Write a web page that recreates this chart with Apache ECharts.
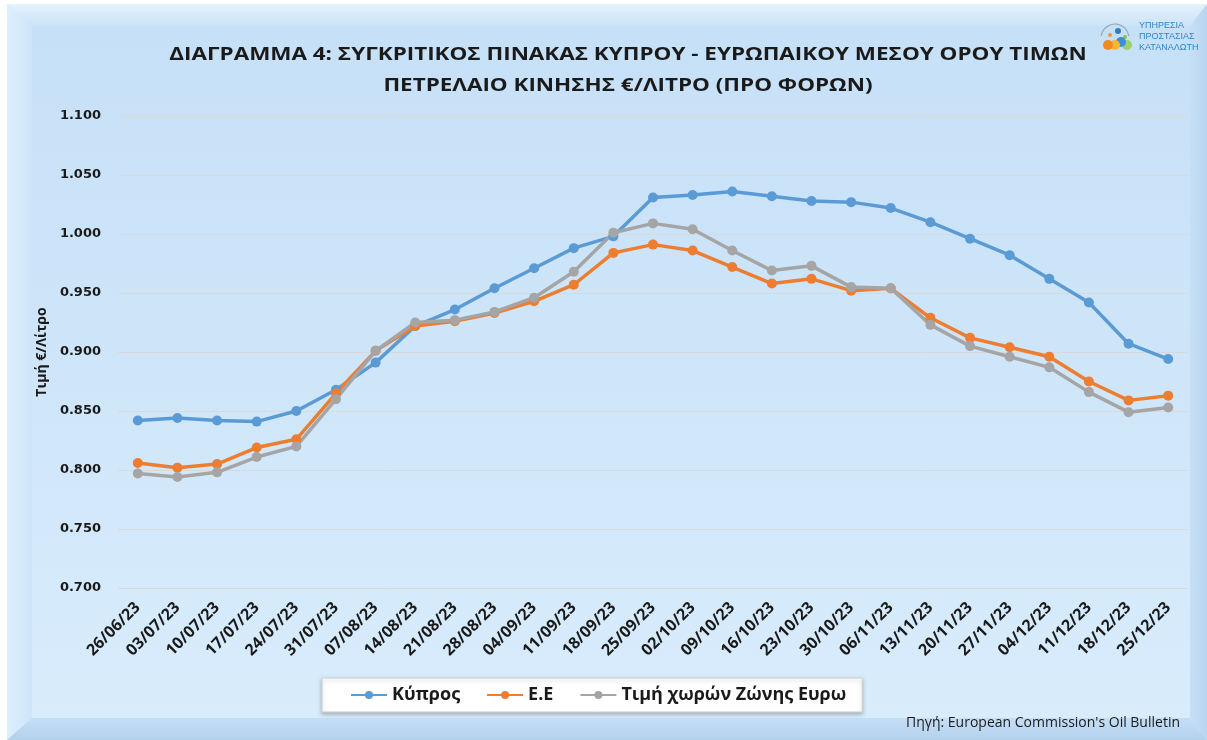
<!DOCTYPE html>
<html>
<head>
<meta charset="utf-8">
<script src="https://cdn.jsdelivr.net/npm/echarts@6/dist/echarts.min.js"></script>
<style>
html,body{margin:0;padding:0;background:#fff;}
#chart{width:1207px;height:740px;}
</style>
</head>
<body>
<div id="chart"></div>
<script>
// weekly dates
var dates = ['26/06/23','03/07/23','10/07/23','17/07/23','24/07/23','31/07/23','07/08/23','14/08/23','21/08/23','28/08/23','04/09/23','11/09/23','18/09/23','25/09/23','02/10/23','09/10/23','16/10/23','23/10/23','30/10/23','06/11/23','13/11/23','20/11/23','27/11/23','04/12/23','11/12/23','18/12/23','25/12/23'];

var kypros = [0.842,0.844,0.842,0.841,0.850,0.868,0.891,0.922,0.936,0.954,0.971,0.988,0.998,1.031,1.033,1.036,1.032,1.028,1.027,1.022,1.010,0.996,0.982,0.962,0.942,0.907,0.894];
var ee = [0.806,0.802,0.805,0.819,0.826,0.865,0.901,0.922,0.926,0.933,0.943,0.957,0.984,0.991,0.986,0.972,0.958,0.962,0.952,0.954,0.929,0.912,0.904,0.896,0.875,0.859,0.863];
var eurozone = [0.797,0.794,0.798,0.811,0.820,0.860,0.901,0.925,0.927,0.934,0.946,0.968,1.001,1.009,1.004,0.986,0.969,0.973,0.955,0.954,0.923,0.905,0.896,0.887,0.866,0.849,0.853];

var seriesNames = ['Κύπρος','Ε.Ε','Τιμή χωρών Ζώνης Ευρω'];
var colors = ['#5b9bd5','#ed7d31','#a5a5a5'];
var titleText = 'ΔΙΑΓΡΑΜΜΑ 4: ΣΥΓΚΡΙΤΙΚΟΣ ΠΙΝΑΚΑΣ ΚΥΠΡΟΥ - ΕΥΡΩΠΑΙΚΟΥ ΜΕΣΟΥ ΟΡΟΥ ΤΙΜΩΝ\nΠΕΤΡΕΛΑΙΟ ΚΙΝΗΣΗΣ €/ΛΙΤΡΟ (ΠΡΟ ΦΟΡΩΝ)';

var dom = document.getElementById('chart');
var myChart = echarts.init(dom);

function makeSeries(name, data, color){
    return {
        name: name,
        type: 'line',
        data: data,
        symbol: 'circle',
        symbolSize: 10,
        lineStyle: {width: 3.5, color: color},
        itemStyle: {color: color},
        animation: false
    };
}

var option = {
    backgroundColor: '#ffffff',
    textStyle: {fontFamily: 'Open Sans'},
    graphic: [
        // frame bevel
        {type: 'rect', z: -20, shape: {x: 7, y: 4, width: 1200, height: 736},
         style: {fill: '#cfe6fa'}},
        {type: 'polygon', z: -19, shape: {points: [[7,4],[1207,4],[1190,26],[32,26]]},
         style: {fill: new echarts.graphic.LinearGradient(0,0,0,1,[{offset:0,color:'#e4f2fd'},{offset:1,color:'#cbe3f8'}])}},
        {type: 'polygon', z: -19, shape: {points: [[7,4],[32,26],[32,718],[7,740]]},
         style: {fill: new echarts.graphic.LinearGradient(0,0,1,0,[{offset:0,color:'#dcf0fe'},{offset:1,color:'#cde5fa'}])}},
        {type: 'polygon', z: -19, shape: {points: [[7,740],[32,718],[1190,718],[1207,740]]},
         style: {fill: new echarts.graphic.LinearGradient(0,0,0,1,[{offset:0,color:'#c4def5'},{offset:1,color:'#b4d1ec'}])}},
        {type: 'polygon', z: -19, shape: {points: [[1207,4],[1190,26],[1190,718],[1207,740]]},
         style: {fill: new echarts.graphic.LinearGradient(0,0,1,0,[{offset:0,color:'#c7dff5'},{offset:1,color:'#b9d5ef'}])}},
        {type: 'rect', z: -18, shape: {x: 32, y: 26, width: 1158, height: 692},
         style: {fill: new echarts.graphic.LinearGradient(0,0,0,1,[{offset:0,color:'#c6e0f7'},{offset:1,color:'#d8ecfc'}])}},
        // title (stretched horizontally like the original)
        {type: 'text', z: 10, x: 628, y: 40, scaleX: 1.32,
         style: {text: titleText, textAlign: 'center', textVerticalAlign: 'top', fill: '#1a1a1a',
                 font: 'bold 17px "Open Sans"', lineHeight: 31}},
        // logo
        {type: 'arc', z: 5, shape: {cx: 1115, cy: 38, r: 14, startAngle: Math.PI*1.05, endAngle: Math.PI*1.95},
         style: {stroke: '#9aa6b2', lineWidth: 1.2, fill: null}},
        {type: 'circle', z: 5, shape: {cx: 1118, cy: 31, r: 3}, style: {fill: '#2e7ec4'}},
        {type: 'circle', z: 5, shape: {cx: 1110, cy: 35, r: 2}, style: {fill: '#f29a2e'}},
        {type: 'circle', z: 5, shape: {cx: 1125, cy: 37, r: 2}, style: {fill: '#8cc63f'}},
        {type: 'circle', z: 5, shape: {cx: 1127, cy: 45, r: 5}, style: {fill: '#9bd06a'}},
        {type: 'circle', z: 5, shape: {cx: 1121, cy: 42, r: 5}, style: {fill: '#3a8fd6'}},
        {type: 'circle', z: 5, shape: {cx: 1115, cy: 45, r: 5}, style: {fill: '#f7b733'}},
        {type: 'circle', z: 5, shape: {cx: 1108, cy: 45, r: 5}, style: {fill: '#f28a1e'}},
        {type: 'text', z: 5, left: 1139, top: 20,
         style: {text: 'ΥΠΗΡΕΣΙΑ\nΠΡΟΣΤΑΣΙΑΣ\nΚΑΤΑΝΑΛΩΤΗ', fill: '#2d86c8', font: '9px "Liberation Sans"', lineHeight: 11}},
        // source
        {type: 'text', right: 27, top: 716,
         style: {text: "Πηγή: European Commission's Oil Bulletin", fill: '#1a1a1a', font: '14px "Open Sans"'}}
    ],
    legend: {
        data: seriesNames,
        left: 322,
        top: 678,
        backgroundColor: '#ffffff',
        borderColor: '#d0d0d0',
        borderWidth: 1,
        shadowColor: 'rgba(0,0,0,0.25)',
        shadowBlur: 4,
        shadowOffsetY: 2,
        padding: [8, 16, 8, 28],
        itemGap: 26,
        itemWidth: 36,
        itemHeight: 10,
        textStyle: {fontFamily: 'Open Sans', fontWeight: 'bold', fontSize: 18, color: '#1a1a1a'}
    },
    grid: {left: 118, right: 19, top: 116, bottom: 152},
    xAxis: {
        type: 'category',
        data: dates,
        boundaryGap: true,
        axisLine: {show: false},
        axisTick: {show: false},
        axisLabel: {
            interval: 0,
            rotate: 45,
            margin: 17,
            color: '#1a1a1a',
            fontFamily: 'Open Sans',
            fontWeight: 'bold',
            fontSize: 16
        }
    },
    yAxis: {
        type: 'value',
        min: 0.7,
        max: 1.1,
        interval: 0.05,
        name: 'Τιμή €/Λίτρο',
        nameLocation: 'middle',
        nameGap: 66,
        nameRotate: 90,
        nameTextStyle: {fontFamily: 'Open Sans', fontWeight: 'bold', fontSize: 14, color: '#1a1a1a'},
        axisLine: {show: false},
        axisTick: {show: false},
        splitLine: {lineStyle: {color: '#d9d9d9', width: 1}},
        axisLabel: {
            margin: 17,
            color: '#1a1a1a',
            fontFamily: 'DejaVu Sans',
            fontWeight: 'bold',
            fontSize: 13,
            formatter: function (v) { return v.toFixed(3); }
        }
    },
    series: [
        makeSeries(seriesNames[0], kypros, colors[0]),
        makeSeries(seriesNames[1], ee, colors[1]),
        makeSeries(seriesNames[2], eurozone, colors[2])
    ]
};

myChart.setOption(option);
</script>
</body>
</html>
